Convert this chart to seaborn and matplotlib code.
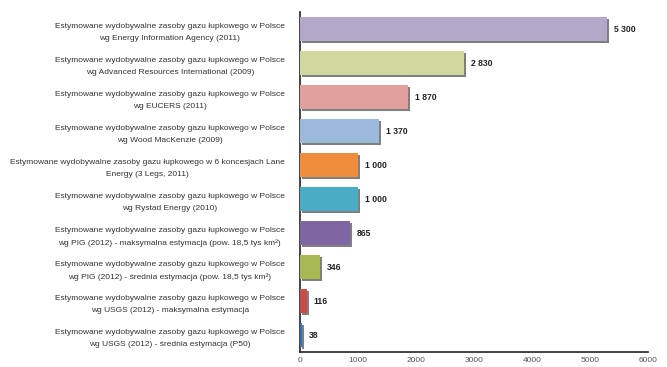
import matplotlib
matplotlib.use("Agg")
import matplotlib.pyplot as plt
import matplotlib.patches as mpatches
import matplotlib.transforms as mtrans
import seaborn as sns
import pandas as pd

categories = [
    "Estymowane wydobywalne zasoby gazu łupkowego w Polsce\nwg Energy Information Agency (2011)",
    "Estymowane wydobywalne zasoby gazu łupkowego w Polsce\nwg Advanced Resources International (2009)",
    "Estymowane wydobywalne zasoby gazu łupkowego w Polsce\nwg EUCERS (2011)",
    "Estymowane wydobywalne zasoby gazu łupkowego w Polsce\nwg Wood MacKenzie (2009)",
    "Estymowane wydobywalne zasoby gazu łupkowego w 6 koncesjach Lane\nEnergy (3 Legs, 2011)",
    "Estymowane wydobywalne zasoby gazu łupkowego w Polsce\nwg Rystad Energy (2010)",
    "Estymowane wydobywalne zasoby gazu łupkowego w Polsce\nwg PIG (2012) - maksymalna estymacja (pow. 18,5 tys km²)",
    "Estymowane wydobywalne zasoby gazu łupkowego w Polsce\nwg PIG (2012) - średnia estymacja (pow. 18,5 tys km²)",
    "Estymowane wydobywalne zasoby gazu łupkowego w Polsce\nwg USGS (2012) - maksymalna estymacja",
    "Estymowane wydobywalne zasoby gazu łupkowego w Polsce\nwg USGS (2012) - średnia estymacja (P50)",
]
values = [5300, 2830, 1870, 1370, 1000, 1000, 865, 346, 116, 38]
value_labels = ["5 300", "2 830", "1 870", "1 370", "1 000", "1 000", "865", "346", "116", "38"]
colors = ["#B3A8C8", "#D0D8A0", "#E0A09E", "#9BB9DA", "#EE8D3B",
          "#4BACC6", "#7E66A3", "#A8B852", "#C84D4A", "#2E75B6"]
xticks = [0, 1000, 2000, 3000, 4000, 5000, 6000]

sns.set_style("white")
plt.rcParams["font.family"] = ["Liberation Sans", "DejaVu Sans"]

df = pd.DataFrame({"cat": categories, "val": values})

fig = plt.figure(figsize=(6.67, 3.67), dpi=100)
ax = fig.add_axes([300/667, 1-352/367, 348/667, 340/367])

sns.barplot(data=df, y="cat", x="val", hue="cat", palette=colors, legend=False,
            orient="h", width=0.68, saturation=1, ax=ax, edgecolor="none", zorder=3)

offset = mtrans.ScaledTranslation(2.0/100, -2.0/100, fig.dpi_scale_trans)
for p in list(ax.patches):
    sh = mpatches.Rectangle(p.get_xy(), p.get_width(), p.get_height(),
                            transform=ax.transData + offset,
                            facecolor="#7F7F7F", edgecolor="none", zorder=2)
    ax.add_patch(sh)

for i, (v, lab) in enumerate(zip(values, value_labels)):
    ax.annotate(lab, xy=(v, i), xytext=(5, 0), textcoords="offset points",
                ha="left", va="center", fontsize=6.2, fontweight="bold", color="#222222")

ax.set_xlim(0, 6000)
ax.set_ylim(9.5, -0.5)
ax.set_xticks(xticks)
ax.set_xticklabels([str(t) for t in xticks], fontsize=6, color="#555555")
ax.set_yticks([i - 0.5 for i in range(11)], minor=False)
ax.set_yticklabels([])
ax.set_yticks(range(10), minor=True)
ax.set_yticklabels(categories, minor=True, fontsize=6, color="#333333",
                   multialignment="center", linespacing=1.95)
ax.tick_params(axis="y", which="minor", length=0, pad=11)
ax.tick_params(axis="y", which="major", direction="out", length=3, width=1, color="#222222")
ax.tick_params(axis="x", direction="inout", length=4, width=1, color="#222222", pad=1.5)
ax.set_xlabel("")
ax.set_ylabel("")
for s in ["top", "right"]:
    ax.spines[s].set_visible(False)
for s in ["left", "bottom"]:
    ax.spines[s].set_color("#222222")
    ax.spines[s].set_linewidth(1.2)

fig.savefig("out.png", dpi=100)
